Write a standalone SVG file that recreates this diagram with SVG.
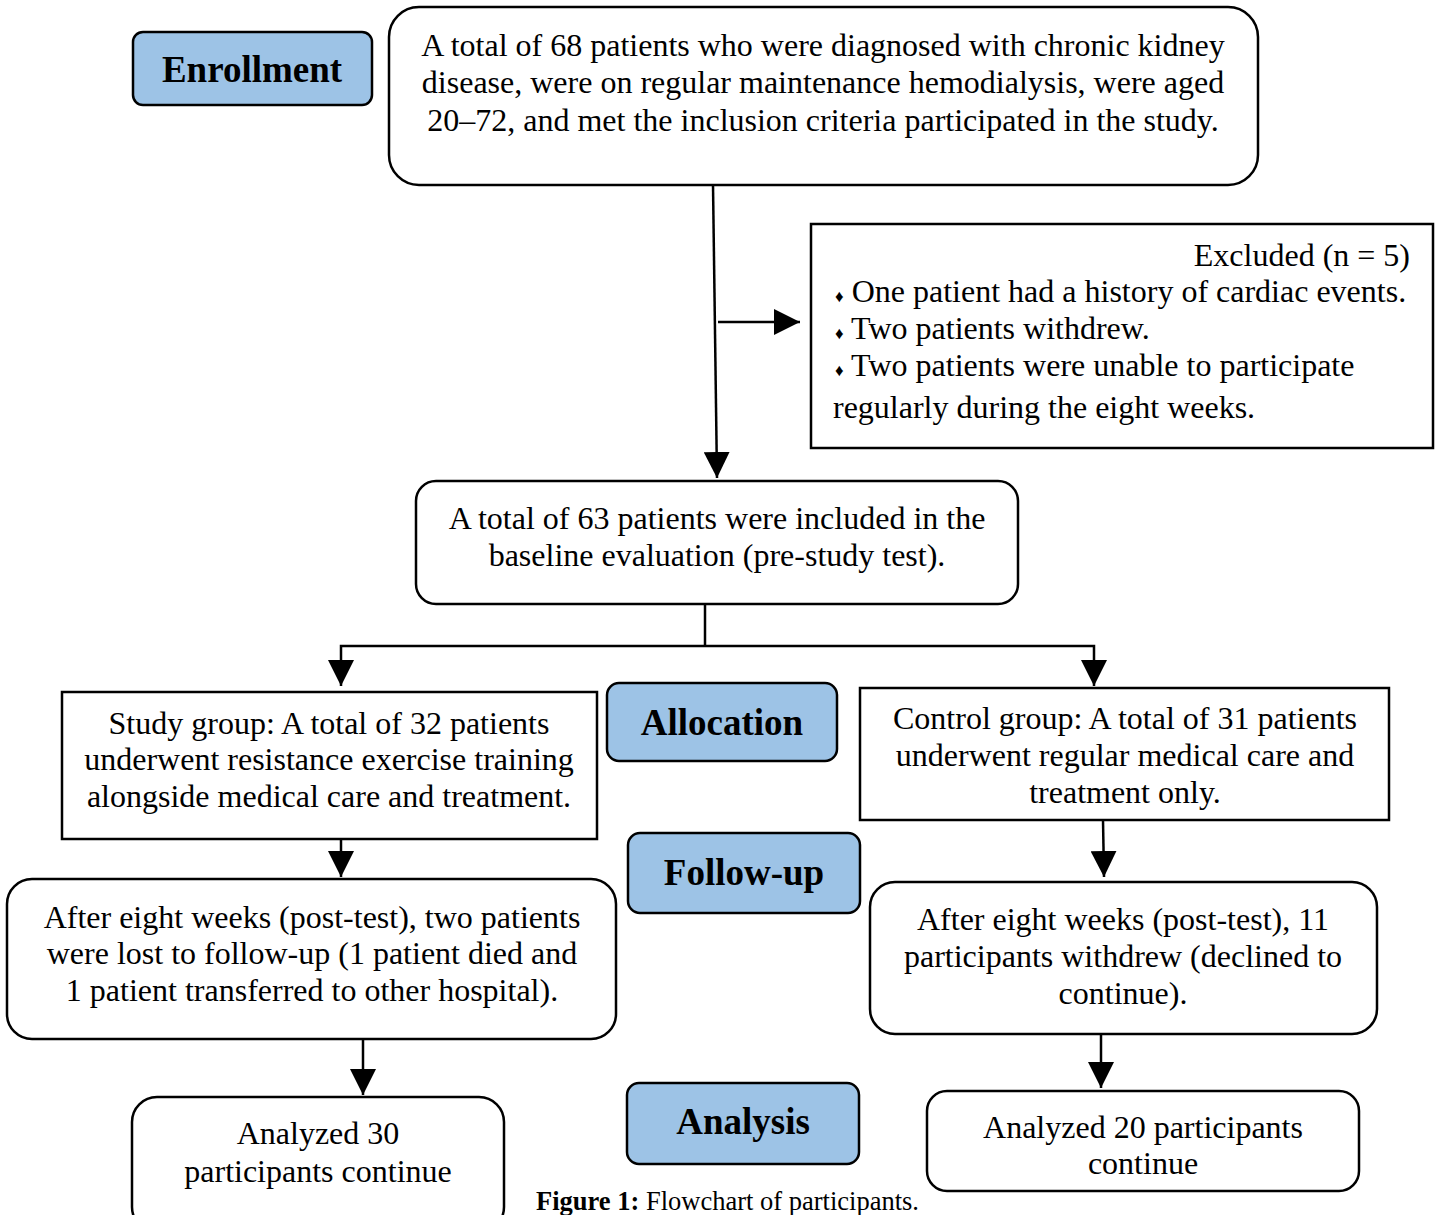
<svg xmlns="http://www.w3.org/2000/svg" width="1441" height="1215" viewBox="0 0 1441 1215">
<defs>
<style>
.box{fill:#fff;stroke:#000;stroke-width:2.5}
.lab{fill:#9DC3E6;stroke:#000;stroke-width:2.5}
.t{font-family:"Liberation Serif","Times New Roman",serif;font-size:32px;fill:#000;text-anchor:middle}
.tl{font-family:"Liberation Serif","Times New Roman",serif;font-size:32px;fill:#000}
.b{font-family:"Liberation Serif","Times New Roman",serif;font-size:37px;font-weight:bold;fill:#000;text-anchor:middle}
.ln{fill:none;stroke:#000;stroke-width:2.5}
.cap{font-family:"Liberation Serif","Times New Roman",serif;font-size:26.5px;fill:#000}
</style>
<marker id="ahB" viewBox="0 0 10 10" refX="10" refY="5" markerWidth="26" markerHeight="26" markerUnits="userSpaceOnUse" orient="auto">
<path d="M0,0 L10,5 L0,10 z" fill="#000"/>
</marker>
</defs>

<g id="connectors">
<line class="ln" x1="713" y1="185" x2="717" y2="478" marker-end="url(#ahB)"/>
<line class="ln" x1="718" y1="322" x2="800" y2="322" marker-end="url(#ahB)"/>
<polyline class="ln" points="705,604 705,646"/>
<polyline class="ln" points="341,672 341,646 1094,646 1094,672"/>
<line class="ln" x1="341" y1="660" x2="341" y2="686" marker-end="url(#ahB)"/>
<line class="ln" x1="1094" y1="660" x2="1094" y2="686" marker-end="url(#ahB)"/>
<line class="ln" x1="341" y1="839" x2="341" y2="877" marker-end="url(#ahB)"/>
<line class="ln" x1="1103" y1="820" x2="1104" y2="877" marker-end="url(#ahB)"/>
<line class="ln" x1="363" y1="1040" x2="363" y2="1095" marker-end="url(#ahB)"/>
<line class="ln" x1="1101" y1="1034" x2="1101" y2="1088" marker-end="url(#ahB)"/>
</g>

<g id="enrollment">
<rect class="lab" x="133" y="32" width="239" height="73" rx="10"/>
<text class="b" x="252" y="82">Enrollment</text>
</g>

<g id="n-total68">
<rect class="box" x="389" y="7" width="869" height="178" rx="30"/>
<text class="t" x="823" y="56">A total of 68 patients who were diagnosed with chronic kidney</text>
<text class="t" x="823" y="93">disease, were on regular maintenance hemodialysis, were aged</text>
<text class="t" x="823" y="131">20–72, and met the inclusion criteria participated in the study.</text>
</g>

<g id="n-excluded">
<rect class="box" x="811" y="224" width="622" height="224"/>
<text class="tl" x="1410" y="266" text-anchor="end">Excluded (n = 5)</text>
<text class="tl" x="835" y="302"><tspan font-size="17">♦</tspan> One patient had a history of cardiac events.</text>
<text class="tl" x="835" y="339"><tspan font-size="17">♦</tspan> Two patients withdrew.</text>
<text class="tl" x="835" y="376"><tspan font-size="17">♦</tspan> Two patients were unable to participate</text>
<text class="tl" x="833" y="418">regularly during the eight weeks.</text>
</g>

<g id="n-baseline">
<rect class="box" x="416" y="481" width="602" height="123" rx="20"/>
<text class="t" x="717" y="529">A total of 63 patients were included in the</text>
<text class="t" x="717" y="566">baseline evaluation (pre-study test).</text>
</g>

<g id="n-study">
<rect class="box" x="62" y="692" width="535" height="147"/>
<text class="t" x="329" y="734">Study group: A total of 32 patients</text>
<text class="t" x="329" y="770">underwent resistance exercise training</text>
<text class="t" x="329" y="807">alongside medical care and treatment.</text>
</g>

<g id="allocation">
<rect class="lab" x="607" y="683" width="230" height="78" rx="12"/>
<text class="b" x="722" y="735">Allocation</text>
</g>

<g id="n-control">
<rect class="box" x="860" y="688" width="529" height="132"/>
<text class="t" x="1125" y="729">Control group: A total of 31 patients</text>
<text class="t" x="1125" y="766">underwent regular medical care and</text>
<text class="t" x="1125" y="803">treatment only.</text>
</g>

<g id="followup">
<rect class="lab" x="628" y="833" width="232" height="80" rx="12"/>
<text class="b" x="744" y="885">Follow-up</text>
</g>

<g id="n-study-follow">
<rect class="box" x="7" y="879" width="609" height="160" rx="25"/>
<text class="t" x="312" y="928">After eight weeks (post-test), two patients</text>
<text class="t" x="312" y="964">were lost to follow-up (1 patient died and</text>
<text class="t" x="312" y="1001">1 patient transferred to other hospital).</text>
</g>

<g id="n-control-follow">
<rect class="box" x="870" y="882" width="507" height="152" rx="25"/>
<text class="t" x="1123" y="930">After eight weeks (post-test), 11</text>
<text class="t" x="1123" y="967">participants withdrew (declined to</text>
<text class="t" x="1123" y="1004">continue).</text>
</g>

<g id="analysis">
<rect class="lab" x="627" y="1083" width="232" height="81" rx="12"/>
<text class="b" x="743" y="1134">Analysis</text>
</g>

<g id="n-analyzed30">
<rect class="box" x="132" y="1097" width="372" height="135" rx="25"/>
<text class="t" x="318" y="1144">Analyzed 30</text>
<text class="t" x="318" y="1182">participants continue</text>
</g>

<g id="n-analyzed20">
<rect class="box" x="927" y="1091" width="432" height="100" rx="20"/>
<text class="t" x="1143" y="1138">Analyzed 20 participants</text>
<text class="t" x="1143" y="1174">continue</text>
</g>

<text class="cap" x="536" y="1210"><tspan font-weight="bold">Figure 1:</tspan> Flowchart of participants.</text>
</svg>
